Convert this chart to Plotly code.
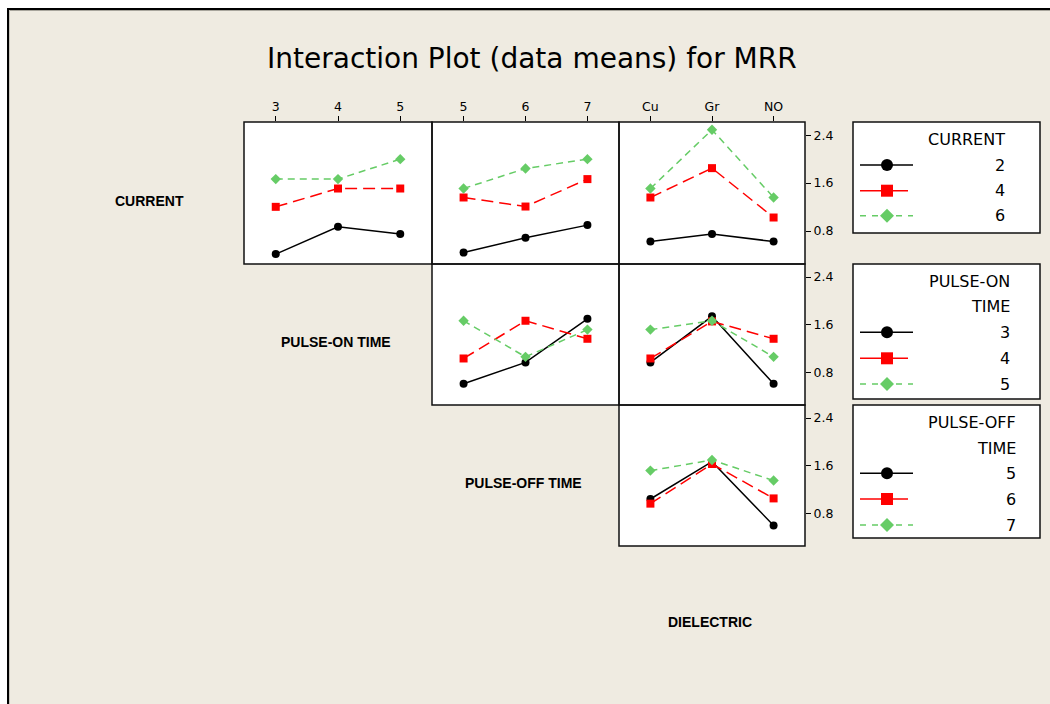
import plotly.graph_objects as go

# ---------------- data ----------------
pulse_on_levels = ["3", "4", "5"]
pulse_off_levels = ["5", "6", "7"]
dielectric_levels = ["Cu", "Gr", "NO"]
current_levels = ["2", "4", "6"]

# row 1: CURRENT levels as series
cur2_vs_pon = [0.415, 0.870, 0.749]
cur4_vs_pon = [1.204, 1.510, 1.510]
cur6_vs_pon = [1.667, 1.667, 2.000]
cur2_vs_poff = [0.441, 0.687, 0.899]
cur4_vs_poff = [1.360, 1.209, 1.667]
cur6_vs_poff = [1.510, 1.844, 2.000]
cur2_vs_diel = [0.625, 0.749, 0.625]
cur4_vs_diel = [1.360, 1.850, 1.026]
cur6_vs_diel = [1.510, 2.490, 1.360]
# row 2: PULSE-ON TIME levels as series
pon3_vs_poff = [0.607, 0.966, 1.699]
pon4_vs_poff = [1.032, 1.666, 1.363]
pon5_vs_poff = [1.666, 1.059, 1.517]
pon3_vs_diel = [0.966, 1.740, 0.607]
pon4_vs_diel = [1.032, 1.655, 1.363]
pon5_vs_diel = [1.517, 1.666, 1.059]
# row 3: PULSE-OFF TIME levels as series
poff5_vs_diel = [1.040, 1.667, 0.595]
poff6_vs_diel = [0.962, 1.628, 1.050]
poff7_vs_diel = [1.517, 1.695, 1.350]

y_ticks = [0.8, 1.6, 2.4]
y_ticktext = ["0.8", "1.6", "2.4"]

# ---------------- styling / layout helpers ----------------
W, H = 1050, 704
BG = "#EFEBE1"
GREEN = "#66CC66"
RED = "#FF0000"
BLACK = "#000000"
FONT = "DejaVu Sans"

def px(x):
    return x / W

def py(y):
    return 1 - y / H

col_px = [(244, 432), (432, 619), (619, 805)]
row_px = [(122, 264), (264, 405), (405, 546)]

styles = [
    dict(color=BLACK, dash="solid", symbol="circle", size=8),
    dict(color=RED, dash="12px,6px", symbol="square", size=8),
    dict(color=GREEN, dash="7px,5px", symbol="diamond", size=8),
]

# panel: (axis index, row, col, x levels, [series])
panels = [
    (1, 0, 0, pulse_on_levels, [cur2_vs_pon, cur4_vs_pon, cur6_vs_pon]),
    (2, 0, 1, pulse_off_levels, [cur2_vs_poff, cur4_vs_poff, cur6_vs_poff]),
    (3, 0, 2, dielectric_levels, [cur2_vs_diel, cur4_vs_diel, cur6_vs_diel]),
    (4, 1, 1, pulse_off_levels, [pon3_vs_poff, pon4_vs_poff, pon5_vs_poff]),
    (5, 1, 2, dielectric_levels, [pon3_vs_diel, pon4_vs_diel, pon5_vs_diel]),
    (6, 2, 2, dielectric_levels, [poff5_vs_diel, poff6_vs_diel, poff7_vs_diel]),
]

fig = go.Figure()
layout = dict(
    width=W, height=H, autosize=False,
    margin=dict(l=0, r=0, t=0, b=0),
    paper_bgcolor=BG, plot_bgcolor="white",
    showlegend=False,
    font=dict(family=FONT, color="black"),
)

shapes = []
annotations = []

for idx, r, c, levels, series in panels:
    xa = "x" if idx == 1 else f"x{idx}"
    ya = "y" if idx == 1 else f"y{idx}"
    for s, st in zip(series, styles):
        fig.add_trace(go.Scatter(
            x=levels, y=s, xaxis=xa, yaxis=ya, mode="lines+markers",
            line=dict(color=st["color"], width=1.5, dash=st["dash"]),
            marker=dict(color=st["color"], symbol=st["symbol"], size=st["size"]),
            cliponaxis=False, hoverinfo="skip",
        ))
    x0, x1 = col_px[c]
    y0, y1 = row_px[r]
    xkey = "xaxis" if idx == 1 else f"xaxis{idx}"
    ykey = "yaxis" if idx == 1 else f"yaxis{idx}"
    xd = dict(type="category", domain=[px(x0), px(x1)], range=[-0.51, 2.51],
              anchor=ya, showgrid=False, zeroline=False, showline=False,
              fixedrange=True)
    if r == 0:
        xd.update(side="top", ticks="outside", ticklen=5, tickwidth=1,
                  tickcolor="black", tickfont=dict(family=FONT, size=12.5, color="black"))
    else:
        xd.update(showticklabels=False, ticks="")
    yd = dict(domain=[py(y1), py(y0)], range=[0.25, 2.62], anchor=xa,
              showgrid=False, zeroline=False, showline=False, fixedrange=True)
    if c == 2:
        yd.update(side="right", ticks="outside", ticklen=5, tickwidth=1,
                  tickcolor="black", tickvals=y_ticks, ticktext=y_ticktext,
                  tickfont=dict(family=FONT, size=12.5, color="black"))
    else:
        yd.update(showticklabels=False, ticks="")
    layout[xkey] = xd
    layout[ykey] = yd
    shapes.append(dict(type="rect", xref="paper", yref="paper",
                       x0=px(x0), x1=px(x1), y0=py(y1), y1=py(y0),
                       line=dict(color="#111111", width=1.5), layer="above"))

# outer frame (white margin top/left, black border)
shapes.append(dict(type="rect", xref="paper", yref="paper", x0=0, x1=1, y0=py(8), y1=1,
                   fillcolor="white", line=dict(width=0), layer="below"))
shapes.append(dict(type="rect", xref="paper", yref="paper", x0=0, x1=px(7), y0=0, y1=1,
                   fillcolor="white", line=dict(width=0), layer="below"))
shapes.append(dict(type="line", xref="paper", yref="paper", x0=px(7), x1=1.01, y0=py(9), y1=py(9),
                   line=dict(color="black", width=2)))
shapes.append(dict(type="line", xref="paper", yref="paper", x0=px(8), x1=px(8), y0=-0.01, y1=py(8),
                   line=dict(color="black", width=2)))
shapes.append(dict(type="line", xref="paper", yref="paper", x0=px(9), x1=1.01, y0=py(10.5), y1=py(10.5),
                   line=dict(color="#A8A59C", width=1)))
shapes.append(dict(type="line", xref="paper", yref="paper", x0=px(9.5), x1=px(9.5), y0=-0.01, y1=py(10),
                   line=dict(color="#C8C5BC", width=1)))

# title and row labels
annotations.append(dict(text="Interaction Plot (data means) for MRR", x=px(532), y=py(59),
                        xref="paper", yref="paper", showarrow=False, xanchor="center",
                        yanchor="middle", font=dict(family=FONT, size=28, color="black")))
row_labels = [("CURRENT", 149, 201), ("PULSE-ON TIME", 336, 342),
              ("PULSE-OFF TIME", 523, 483), ("DIELECTRIC", 710, 622)]
for txt, x, y in row_labels:
    annotations.append(dict(text=f"<b>{txt}</b>", x=px(x), y=py(y), xref="paper", yref="paper",
                            showarrow=False, xanchor="center", yanchor="middle",
                            font=dict(family="Liberation Sans", size=14, color="black")))

# legends (key boxes drawn as layout decoration)
legends = [
    dict(top=122, bottom=233, title=["CURRENT"], title_y=[139], labels=current_levels,
         item_y=[165, 190.7, 215.7], right=1007),
    dict(top=264, bottom=399, title=["PULSE-ON", "TIME"], title_y=[281.7, 306.7],
         labels=pulse_on_levels, item_y=[332.3, 358.3, 384], right=1012),
    dict(top=405, bottom=538, title=["PULSE-OFF", "TIME"], title_y=[422.7, 448.3],
         labels=pulse_off_levels, item_y=[473.3, 499, 525], right=1018),
]
LX0, LX1 = 853, 1040
for lg in legends:
    shapes.append(dict(type="rect", xref="paper", yref="paper", x0=px(LX0), x1=px(LX1),
                       y0=py(lg["bottom"]), y1=py(lg["top"]), fillcolor="white",
                       line=dict(color="#111111", width=1.5)))
    for t, ty in zip(lg["title"], lg["title_y"]):
        annotations.append(dict(text=t, x=px(lg["right"]), y=py(ty), xref="paper", yref="paper",
                                showarrow=False, xanchor="right", yanchor="middle",
                                font=dict(family=FONT, size=16, color="black")))
    for k, (lab, iy) in enumerate(zip(lg["labels"], lg["item_y"])):
        st = styles[k]
        annotations.append(dict(text=lab, x=px(lg["right"]), y=py(iy), xref="paper", yref="paper",
                                showarrow=False, xanchor="right", yanchor="middle",
                                font=dict(family=FONT, size=16, color="black")))
        dash = "solid" if k < 2 else "6px,6px"
        xend = 908 if k == 1 else 913
        shapes.append(dict(type="line", xref="paper", yref="paper", x0=px(860), x1=px(xend),
                           y0=py(iy), y1=py(iy), line=dict(color=st["color"], width=1.5, dash=dash)))
        cx, r = 887, 6
        if st["symbol"] == "circle":
            shapes.append(dict(type="circle", xref="paper", yref="paper", x0=px(cx - r), x1=px(cx + r),
                               y0=py(iy + r), y1=py(iy - r), fillcolor=st["color"],
                               line=dict(color=st["color"], width=0)))
        elif st["symbol"] == "square":
            shapes.append(dict(type="rect", xref="paper", yref="paper", x0=px(cx - r), x1=px(cx + r),
                               y0=py(iy + r), y1=py(iy - r), fillcolor=st["color"],
                               line=dict(color=st["color"], width=0)))
        else:
            d = 7
            path = (f"M {px(cx - d)} {py(iy)} L {px(cx)} {py(iy - d)} "
                    f"L {px(cx + d)} {py(iy)} L {px(cx)} {py(iy + d)} Z")
            shapes.append(dict(type="path", xref="paper", yref="paper", path=path,
                               fillcolor=st["color"], line=dict(color=st["color"], width=0)))

layout["shapes"] = shapes
layout["annotations"] = annotations
fig.update_layout(**layout)
fig.write_html("out.html")
